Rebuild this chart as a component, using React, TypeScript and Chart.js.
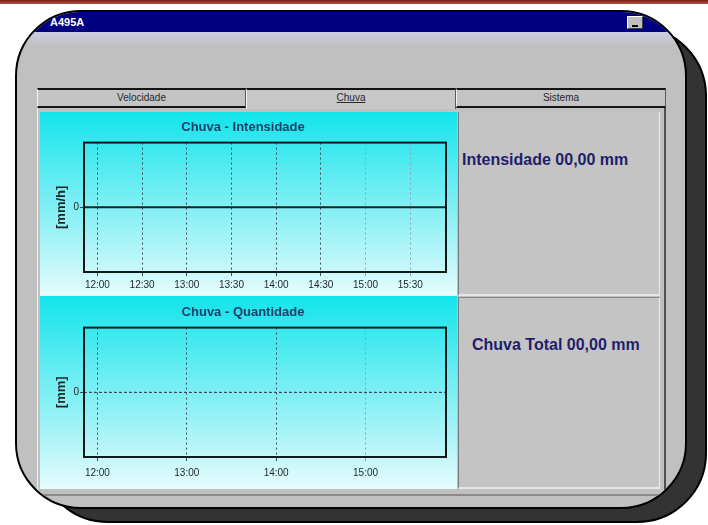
import React, { useEffect, useRef } from "react";
import { Chart, registerables } from "chart.js";

Chart.register(...registerables);

// ---------------- data ----------------
const windowTitle = "A495A";
const tabLabels = ["Velocidade", "Chuva", "Sistema"];
const activeTab = "Chuva";

const intensityTitle = "Chuva - Intensidade";
const intensityUnit = "[mm/h]";
const intensityTimes = ["11:51", "12:00", "12:30", "13:00", "13:30", "14:00", "14:30", "15:00", "15:30", "15:54"];
const intensityValues = [0, 0, 0, 0, 0, 0, 0, 0, 0, 0];
const intensityTicks = ["12:00", "12:30", "13:00", "13:30", "14:00", "14:30", "15:00", "15:30"];

const quantityTitle = "Chuva - Quantidade";
const quantityUnit = "[mm]";
const quantityTimes = ["11:51", "12:00", "13:00", "14:00", "15:00", "15:54"];
const quantityValues = [0, 0, 0, 0, 0, 0];
const quantityTicks = ["12:00", "13:00", "14:00", "15:00"];

const timeMin = "11:51";
const timeMax = "15:54";
const yMin = -1;
const yMax = 1;
const yTickValues = [0];

const intensityReading = "Intensidade 00,00 mm";
const totalReading = "Chuva Total 00,00 mm";
// --------------------------------------

const toMinutes = (s: string) => {
  const [h, m] = s.split(":").map(Number);
  return h * 60 + m;
};
const fmt = (v: number) => `${Math.floor(v / 60)}:${String(Math.round(v % 60)).padStart(2, "0")}`;

type ChartProps = {
  title: string;
  unit: string;
  times: string[];
  values: number[];
  ticks: string[];
  dashed: boolean;
  tickPad: number;
  titlePadTop: number;
  height: number;
};

function RainChart({ title, unit, times, values, ticks, dashed, tickPad, titlePadTop, height }: ChartProps) {
  const ref = useRef<HTMLCanvasElement>(null);
  useEffect(() => {
    const tickVals = ticks.map(toMinutes);
    const frame = {
      id: "frame",
      afterDraw(chart: any) {
        const { ctx, chartArea } = chart;
        ctx.save();
        ctx.strokeStyle = "#101818";
        ctx.lineWidth = 2;
        ctx.strokeRect(chartArea.left, chartArea.top, chartArea.right - chartArea.left, chartArea.bottom - chartArea.top);
        ctx.restore();
      },
    };
    const chart = new Chart(ref.current as HTMLCanvasElement, {
      type: "line",
      data: {
        datasets: [
          {
            data: times.map((t, i) => ({ x: toMinutes(t), y: values[i] })),
            borderColor: dashed ? "#3a4a58" : "#142626",
            borderWidth: dashed ? 1.2 : 2,
            borderDash: dashed ? [2, 3] : [],
            pointRadius: 0,
            fill: false,
            tension: 0,
          },
        ],
      },
      options: {
        animation: false,
        responsive: false,
        maintainAspectRatio: false,
        layout: { padding: { left: 0, right: 11, top: 0, bottom: 0 } },
        plugins: {
          legend: { display: false },
          tooltip: { enabled: false },
          title: {
            display: true,
            text: title,
            color: "#22406a",
            font: { family: "Arial, 'Liberation Sans', sans-serif", size: 13, weight: "bold" },
            padding: { top: titlePadTop, bottom: 7 },
          },
        },
        scales: {
          x: {
            type: "linear",
            min: toMinutes(timeMin),
            max: toMinutes(timeMax),
            afterBuildTicks: (s: any) => {
              s.ticks = tickVals.map((v) => ({ value: v }));
            },
            afterFit: (s: any) => {
              s.height = 22;
            },
            ticks: {
              callback: (v: any) => fmt(Number(v)),
              color: "#1c2424",
              font: { family: "Arial, 'Liberation Sans', sans-serif", size: 10 },
              padding: tickPad,
              maxRotation: 0,
              autoSkip: false,
            },
            grid: {
              color: (c: any) => (c.tick && c.tick.value >= 900 ? "#8ea2ae" : "#3c4c58"),
              lineWidth: 1,
              tickLength: 4,
            },
            border: { display: true, color: "#101818", width: 2, dash: [2, 3] },
          },
          y: {
            min: yMin,
            max: yMax,
            afterBuildTicks: (s: any) => {
              s.ticks = yTickValues.map((v) => ({ value: v }));
            },
            afterFit: (s: any) => {
              s.width = 44;
            },
            ticks: {
              color: "#1c2424",
              font: { family: "Arial, 'Liberation Sans', sans-serif", size: 10 },
              padding: 1,
            },
            grid: { color: "#3c4c58", lineWidth: 1, tickLength: 4 },
            border: { display: true, color: "#101818", width: 2, dash: [2, 3] },
            title: {
              display: true,
              text: unit,
              color: "#1c2424",
              font: { family: "Arial, 'Liberation Sans', sans-serif", size: 13, weight: "bold" },
              padding: { top: 14, bottom: 0 },
            },
          },
        },
      },
      plugins: [frame],
    } as any);
    return () => chart.destroy();
  }, []);
  return (
    <canvas
      ref={ref}
      width={417}
      height={height}
      style={{ position: "absolute", left: 0, top: 0, width: 417, height }}
    />
  );
}

const abs = (l: number, t: number, w: number, h: number): React.CSSProperties => ({
  position: "absolute",
  left: l,
  top: t,
  width: w,
  height: h,
  boxSizing: "border-box",
});

const chartBg = "linear-gradient(180deg, #12e4ea 0%, #5eecf2 35%, #a6f3f7 70%, #e6fcfd 100%)";

export default function App() {
  const tabBoxes = [
    { l: 37, w: 209 },
    { l: 246, w: 210 },
    { l: 456, w: 210 },
  ];
  return (
    <div
      style={{
        position: "fixed",
        left: 0,
        top: 0,
        width: 708,
        height: 525,
        background: "#ffffff",
        overflow: "hidden",
        fontFamily: "Arial, 'Liberation Sans', sans-serif",
      }}
    >
      <div style={{ ...abs(0, 0, 708, 4), background: "linear-gradient(#7a1c12, #b4533f)" }} />
      {/* shadow */}
      <div
        style={{
          ...abs(38, 26, 669, 497),
          background: "#333333",
          border: "2px solid #000",
          borderRadius: 70,
        }}
      />
      {/* window */}
      <div
        style={{
          ...abs(15, 10, 672, 499),
          border: "2px solid #000",
          borderRadius: 66,
          overflow: "hidden",
          background: "#c0c0c0",
        }}
      >
        <div style={{ position: "absolute", left: -17, top: -12, width: 708, height: 525 }}>
          <div style={{ ...abs(0, 0, 708, 32), background: "#000080" }} />
          <div style={{ ...abs(0, 32, 708, 12), background: "linear-gradient(#cdcde2, #c2c2c6)" }} />
          <div
            style={{
              position: "absolute",
              left: 50,
              top: 16,
              color: "#fff",
              fontWeight: "bold",
              fontSize: 11,
              lineHeight: "13px",
              whiteSpace: "nowrap",
            }}
          >
            {windowTitle}
          </div>
          <div
            style={{
              ...abs(627, 16, 16, 13),
              background: "#c0c0c0",
              borderTop: "1px solid #fff",
              borderLeft: "1px solid #fff",
              borderRight: "1px solid #404040",
              borderBottom: "1px solid #404040",
            }}
          >
            <div style={{ ...abs(4, 8, 6, 2), background: "#000" }} />
          </div>

          {/* tab panel */}
          <div
            style={{
              ...abs(37, 107, 629, 389),
              background: "#c0c0c0",
              borderLeft: "1px solid #f4f4f4",
              borderRight: "2px solid #505050",
              borderBottom: "2px solid #8a8a8a",
            }}
          />
          {tabLabels.map((t, i) => {
            const active = t === activeTab;
            const b = tabBoxes[i];
            return (
              <div
                key={t}
                style={{
                  ...abs(b.l, 88, b.w, active ? 21 : 20),
                  background: active ? "#c8c8c8" : "#c4c4c4",
                  borderTop: "2px solid #141414",
                  borderLeft: "1px solid #f4f4f4",
                  borderRight: "1px solid #5a5a5a",
                  borderBottom: active ? "none" : "2px solid #141414",
                  fontSize: 10,
                  color: "#2a2a2a",
                  textAlign: "center",
                  lineHeight: "16px",
                  textDecoration: active ? "underline" : "none",
                }}
              >
                {t}
              </div>
            );
          })}

          {/* charts */}
          <div style={{ ...abs(40, 112, 417, 183), background: chartBg }}>
            <RainChart
              title={intensityTitle}
              unit={intensityUnit}
              times={intensityTimes}
              values={intensityValues}
              ticks={intensityTicks}
              dashed={false}
              tickPad={3}
              titlePadTop={8}
              height={182}
            />
          </div>
          <div style={{ ...abs(40, 295, 417, 1), background: "#e8f4f4" }} />
          <div style={{ ...abs(40, 296, 417, 193), background: chartBg }}>
            <RainChart
              title={quantityTitle}
              unit={quantityUnit}
              times={quantityTimes}
              values={quantityValues}
              ticks={quantityTicks}
              dashed={true}
              tickPad={6}
              titlePadTop={9}
              height={183}
            />
          </div>

          {/* reading panels */}
          <div
            style={{
              ...abs(458, 112, 202, 184),
              background: "#c4c4c4",
              borderLeft: "1px solid #7a7a7a",
              borderRight: "1px solid #ececec",
              borderBottom: "2px solid #e6e6e6",
            }}
          />
          <div
            style={{
              ...abs(458, 297, 202, 192),
              background: "#c4c4c4",
              borderLeft: "1px solid #7a7a7a",
              borderRight: "1px solid #ececec",
              borderTop: "1px solid #8a8a8a",
              borderBottom: "2px solid #e6e6e6",
            }}
          />
          <div
            style={{
              position: "absolute",
              left: 462,
              top: 151,
              fontSize: 16,
              lineHeight: "18px",
              fontWeight: "bold",
              color: "#1e1e6c",
              whiteSpace: "nowrap",
            }}
          >
            {intensityReading}
          </div>
          <div
            style={{
              position: "absolute",
              left: 472,
              top: 336,
              fontSize: 16,
              lineHeight: "18px",
              fontWeight: "bold",
              color: "#1e1e6c",
              whiteSpace: "nowrap",
            }}
          >
            {totalReading}
          </div>
        </div>
      </div>
    </div>
  );
}
